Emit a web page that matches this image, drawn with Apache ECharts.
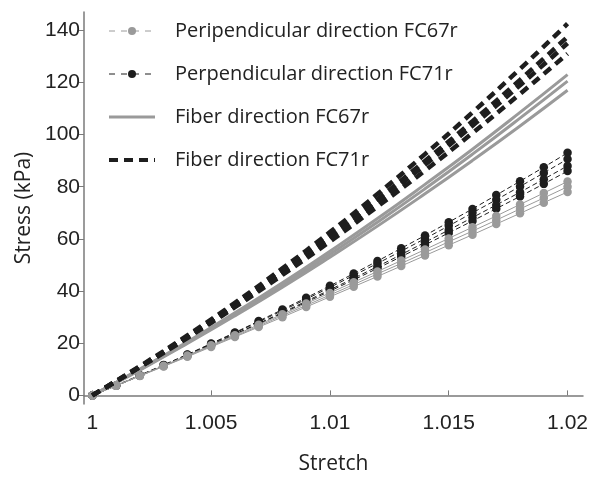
<!DOCTYPE html>
<html>
<head>
<meta charset="utf-8">
<script src="https://cdn.jsdelivr.net/npm/echarts@6/dist/echarts.min.js"></script>
<style>
  html, body { margin: 0; padding: 0; background: #fff; }
  #chart { width: 601px; height: 483px; }
</style>
</head>
<body>
<div id="chart"></div>
<script>
// stretch values (x)
var stretchFine = [1, 1.001, 1.002, 1.003, 1.004, 1.005, 1.006, 1.007, 1.008, 1.009, 1.01,
  1.011, 1.012, 1.013, 1.014, 1.015, 1.016, 1.017, 1.018, 1.019, 1.02];
var stretchCoarse = [1, 1.002, 1.004, 1.006, 1.008, 1.01, 1.012, 1.014, 1.016, 1.018, 1.02];

// fiber direction FC67r (grey solid), stress kPa
var fiber67a = [0, 10.1, 20.6, 31.7, 43.2, 55.3, 67.8, 80.9, 94.4, 108.5, 123];
var fiber67b = [0, 9.9, 20.2, 31.0, 42.3, 54.1, 66.4, 79.2, 92.5, 106.3, 120.5];
var fiber67c = [0, 9.7, 19.9, 30.5, 41.5, 53.0, 64.9, 77.3, 90.1, 103.3, 117];

// fiber direction FC71r (black dashed)
var fiber71a = [0, 11.2, 23.0, 35.5, 48.7, 62.6, 77.2, 92.5, 108.5, 125.2, 142.5];
var fiber71b = [0, 11.0, 22.6, 34.9, 47.7, 61.1, 75.2, 89.9, 105.1, 121.0, 137.5];
var fiber71c = [0, 10.9, 22.4, 34.4, 47.0, 60.3, 74.0, 88.4, 103.4, 118.9, 135];
var fiber71d = [0, 10.8, 22.0, 33.8, 46.2, 59.0, 72.4, 86.2, 100.6, 115.6, 131];

// perpendicular direction FC67r (grey dots)
var perp67a = [0, 3.8, 7.6, 11.4, 15.3, 19.2, 23.1, 27.1, 31.1, 35.2, 39.3,
  43.4, 47.5, 51.7, 55.9, 60.2, 64.5, 68.8, 73.2, 77.6, 82.0];
var perp67b = [0, 3.7, 7.5, 11.2, 15.0, 18.9, 22.7, 26.6, 30.6, 34.5, 38.5,
  42.5, 46.6, 50.6, 54.7, 58.9, 63.0, 67.2, 71.5, 75.7, 80.0];
var perp67c = [0, 3.7, 7.4, 11.1, 14.8, 18.6, 22.4, 26.2, 30.0, 33.9, 37.8,
  41.7, 45.6, 49.6, 53.6, 57.6, 61.6, 65.7, 69.8, 73.9, 78.0];

// perpendicular direction FC71r (black dots)
var perp71a = [0, 3.8, 7.7, 11.7, 15.7, 19.9, 24.1, 28.5, 32.9, 37.4, 42.0,
  46.7, 51.5, 56.4, 61.3, 66.4, 71.5, 76.8, 82.1, 87.5, 93.0];
var perp71b = [0, 3.8, 7.7, 11.6, 15.6, 19.7, 23.9, 28.2, 32.5, 36.9, 41.4,
  46.0, 50.6, 55.3, 60.1, 65.0, 70.0, 75.0, 80.1, 85.3, 90.6];
var perp71c = [0, 3.7, 7.5, 11.4, 15.4, 19.4, 23.5, 27.6, 31.8, 36.1, 40.5,
  44.9, 49.4, 54.0, 58.7, 63.4, 68.2, 73.0, 77.9, 82.9, 88.0];
var perp71d = [0, 3.7, 7.5, 11.4, 15.3, 19.3, 23.3, 27.4, 31.5, 35.7, 40.0,
  44.3, 48.7, 53.2, 57.7, 62.3, 66.9, 71.6, 76.3, 81.1, 86.0];

var xTicks = [1, 1.005, 1.01, 1.015, 1.02];
var yTicks = [0, 20, 40, 60, 80, 100, 120, 140];

var nameP67 = 'Peripendicular direction FC67r';
var nameP71 = 'Perpendicular direction FC71r';
var nameF67 = 'Fiber direction FC67r';
var nameF71 = 'Fiber direction FC71r';

var grey = '#9a9a9a';
var black = '#1e1e1e';

function pairs(xs, ys) {
  return xs.map(function (x, i) { return [x, ys[i]]; });
}

function perpSeries(name, ys, color, dashed) {
  return {
    name: name, type: 'line', data: pairs(stretchFine, ys),
    symbol: 'circle', symbolSize: 8.5, showSymbol: true,
    itemStyle: { color: color },
    lineStyle: { color: color, width: 1, type: dashed ? [5, 3] : 'solid' },
    z: dashed ? 2 : 3
  };
}

function fiberSeries(name, ys, color, dashed) {
  return {
    name: name, type: 'line', data: pairs(stretchCoarse, ys),
    smooth: true, symbol: 'none',
    itemStyle: { color: color },
    lineStyle: { color: color, width: dashed ? 4.5 : 3, type: dashed ? [9, 6] : 'solid' },
    z: dashed ? 5 : 4
  };
}

var chart = echarts.init(document.getElementById('chart'));

var option = {
  animation: false,
  grid: { left: 84, right: 18, top: 12, bottom: 79 },
  legend: {
    orient: 'vertical', left: 102, top: 14,
    itemWidth: 46, itemHeight: 10, itemGap: 19,
    textStyle: { fontFamily: 'Open Sans', fontSize: 20, color: '#222', lineHeight: 24, padding: [0, 0, 0, 15] },
    data: [
      { name: nameP67, lineStyle: { type: [6, 6], width: 1, color: grey }, itemStyle: { color: grey } },
      { name: nameP71, lineStyle: { type: [6, 6], width: 1, color: black }, itemStyle: { color: black } },
      { name: nameF67, lineStyle: { type: 'solid', width: 3, color: grey }, itemStyle: { opacity: 0 } },
      { name: nameF71, lineStyle: { type: [9, 6], width: 4, color: black }, itemStyle: { opacity: 0 } }
    ]
  },
  xAxis: {
    type: 'value', min: 0.99965, max: 1.02065,
    name: 'Stretch', nameLocation: 'middle', nameGap: 50,
    nameTextStyle: { fontFamily: 'Open Sans', fontSize: 21, color: '#222' },
    axisLine: { lineStyle: { color: '#7a7a7a', width: 1.5 } },
    axisTick: { inside: true, length: 5, customValues: xTicks, lineStyle: { color: '#7a7a7a' } },
    axisLabel: {
      customValues: xTicks, margin: 9,
      fontFamily: 'Liberation Sans', fontSize: 21, color: '#222',
      formatter: function (v) { return String(+v.toFixed(3)); }
    },
    splitLine: { show: false }
  },
  yAxis: {
    type: 'value', min: -3.3, max: 147,
    name: 'Stress (kPa)', nameLocation: 'middle', nameGap: 48,
    nameTextStyle: { fontFamily: 'Open Sans', fontSize: 21, color: '#222' },
    axisLine: { show: true, lineStyle: { color: '#7a7a7a', width: 1.5 } },
    axisTick: { show: true, length: 5, customValues: yTicks, lineStyle: { color: '#7a7a7a' } },
    axisLabel: {
      customValues: yTicks, margin: 4,
      fontFamily: 'Liberation Sans', fontSize: 21, color: '#222'
    },
    splitLine: { show: false }
  },
  series: [
    perpSeries(nameP71, perp71a, black, true),
    perpSeries(nameP71, perp71b, black, true),
    perpSeries(nameP71, perp71c, black, true),
    perpSeries(nameP71, perp71d, black, true),
    perpSeries(nameP67, perp67a, grey, false),
    perpSeries(nameP67, perp67b, grey, false),
    perpSeries(nameP67, perp67c, grey, false),
    fiberSeries(nameF67, fiber67a, grey, false),
    fiberSeries(nameF67, fiber67b, grey, false),
    fiberSeries(nameF67, fiber67c, grey, false),
    fiberSeries(nameF71, fiber71a, black, true),
    fiberSeries(nameF71, fiber71b, black, true),
    fiberSeries(nameF71, fiber71c, black, true),
    fiberSeries(nameF71, fiber71d, black, true)
  ]
};

chart.setOption(option);
</script>
</body>
</html>
